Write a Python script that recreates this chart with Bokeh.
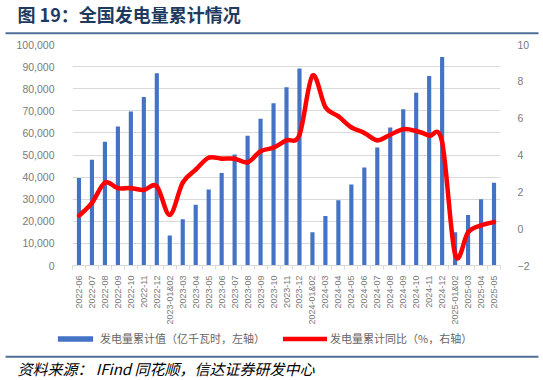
import math
from bokeh.plotting import figure
from bokeh.layouts import column
from bokeh.models import (Range1d, LinearAxis, FixedTicker, NumeralTickFormatter,
                          Label, BoxAnnotation, Legend, LegendItem)
from bokeh.embed import file_html
from bokeh.resources import INLINE

# ---------------- data ----------------
categories = ["2022-06", "2022-07", "2022-08", "2022-09", "2022-10", "2022-11", "2022-12",
              "2023-01&02", "2023-03", "2023-04", "2023-05", "2023-06", "2023-07", "2023-08",
              "2023-09", "2023-10", "2023-11", "2023-12",
              "2024-01&02", "2024-03", "2024-04", "2024-05", "2024-06", "2024-07", "2024-08",
              "2024-09", "2024-10", "2024-11", "2024-12",
              "2025-01&02", "2025-03", "2025-04", "2025-05"]
gen_cum = [39600, 47800, 56000, 62900, 69700, 76200, 87000,
           13600, 20900, 27500, 34400, 41900, 50200, 58700, 66400, 73400, 80700, 89100,
           15100, 22400, 29500, 36600, 44400, 53400, 62500, 70700, 78200, 85800, 94300,
           15000, 22900, 30000, 37400]
yoy_cum = [0.7, 1.4, 2.5, 2.2, 2.2, 2.1, 2.3,
           0.75, 2.5, 3.2, 3.85, 3.8, 3.8, 3.6, 4.2, 4.4, 4.8, 5.1,
           8.3, 6.6, 6.1, 5.5, 5.2, 4.8, 5.1, 5.4, 5.3, 5.05, 4.7,
           -1.4, -0.2, 0.18, 0.36]
left_ticks = list(range(0, 100001, 10000))
right_ticks = [-2, 0, 2, 4, 6, 8, 10]

title_text = "图 19：全国发电量累计情况"
source_text = "资料来源： IFind 同花顺，信达证券研发中心"
bar_label = "发电量累计值（亿千瓦时，左轴）"
line_label = "发电量累计同比（%，右轴）"

CJK = "Noto Sans CJK SC"
LAT = "Liberation Sans"
TICK_COLOR = "#7a7a7a"
GRID_COLOR = "#d9d9d9"
RULE_COLOR = "#4F6F99"
BAR_COLOR = "#4472C4"
LINE_COLOR = "#FF0000"
W = 543


def blank(height):
    f = figure(width=W, height=height, x_range=Range1d(0, W), y_range=Range1d(height, 0),
               output_backend="svg", toolbar_location=None, min_border=0,
               x_axis_type=None, y_axis_type=None, frame_align=False)
    f.outline_line_color = None
    f.xgrid.visible = False
    f.ygrid.visible = False
    return f


# ---------------- header ----------------
HEAD_H = 40
head = blank(HEAD_H)
head.add_layout(Label(x=17, y=13, text=title_text, text_font=CJK, text_font_style="bold",
                      text_font_size="18px", text_color="#1F3A60", text_baseline="middle"))
head.add_layout(BoxAnnotation(left=5, right=538, top=31.7, bottom=33.7,
                              fill_color=RULE_COLOR, fill_alpha=1, line_color=None))

# ---------------- main chart ----------------
n = len(categories)
xs = list(range(n))

MAIN_H = 287
p = figure(width=W, height=MAIN_H, x_range=Range1d(-0.5, n - 0.5), y_range=Range1d(0, 100000),
           output_backend="svg", toolbar_location=None, frame_align=False,
           min_border_left=72, min_border_right=43, min_border_top=44 - HEAD_H,
           min_border_bottom=MAIN_H - 223 - (44 - HEAD_H))
p.outline_line_color = None
p.extra_y_ranges = {"right": Range1d(-2, 10)}

lax = p.yaxis[0]
lax.ticker = FixedTicker(ticks=left_ticks)
lax.formatter = NumeralTickFormatter(format="0,0")
lax.axis_line_color = None
lax.major_tick_line_color = None
lax.minor_tick_line_color = None
lax.major_label_text_font = LAT
lax.major_label_text_font_size = "10.5px"
lax.major_label_text_color = TICK_COLOR
lax.major_label_standoff = 12

rax = LinearAxis(y_range_name="right", ticker=FixedTicker(ticks=right_ticks))
rax.axis_line_color = None
rax.major_tick_line_color = None
rax.minor_tick_line_color = None
rax.major_label_text_font = LAT
rax.major_label_text_font_size = "10.5px"
rax.major_label_text_color = TICK_COLOR
rax.major_label_standoff = 11
p.add_layout(rax, "right")

bax = p.xaxis[0]
bax.ticker = FixedTicker(ticks=xs, minor_ticks=[i - 0.5 for i in range(n + 1)])
bax.major_label_overrides = {i: c for i, c in enumerate(categories)}
bax.major_label_orientation = math.pi / 2
bax.major_label_text_font = LAT
bax.major_label_text_font_size = "9px"
bax.major_label_text_color = TICK_COLOR
bax.axis_line_color = GRID_COLOR
bax.axis_line_width = 1.2
bax.major_tick_line_color = None
bax.major_tick_in = 0
bax.major_tick_out = 0
bax.minor_tick_line_color = GRID_COLOR
bax.minor_tick_in = 0
bax.minor_tick_out = 4
bax.major_label_standoff = 6

p.xgrid.visible = False
p.ygrid.ticker = FixedTicker(ticks=left_ticks)
p.ygrid.grid_line_color = GRID_COLOR
p.ygrid.grid_line_width = 1.2

p.vbar(x=xs, top=gen_cum, width=0.32, fill_color=BAR_COLOR, line_color=None)


# smooth line (Catmull-Rom as Bezier segments)
def pt(i):
    i = max(0, min(n - 1, i))
    return xs[i], yoy_cum[i]


x0, y0, x1, y1, cx0, cy0, cx1, cy1 = [], [], [], [], [], [], [], []
for i in range(n - 1):
    pa, pb, pc, pd = pt(i - 1), pt(i), pt(i + 1), pt(i + 2)
    x0.append(pb[0]); y0.append(pb[1]); x1.append(pc[0]); y1.append(pc[1])
    cx0.append(pb[0] + (pc[0] - pa[0]) / 6); cy0.append(pb[1] + (pc[1] - pa[1]) / 6)
    cx1.append(pc[0] - (pd[0] - pb[0]) / 6); cy1.append(pc[1] - (pd[1] - pb[1]) / 6)
p.bezier(x0=x0, y0=y0, x1=x1, y1=y1, cx0=cx0, cy0=cy0, cx1=cx1, cy1=cy1,
         line_color=LINE_COLOR, line_width=4.5, line_cap="round", y_range_name="right")

# ---------------- footer (legend + source) ----------------
FOOT_H = 380 - HEAD_H - MAIN_H
foot = blank(FOOT_H)
# hidden legend proxies: they only supply the legend swatch styles
bar_proxy = foot.vbar(x=xs, top=gen_cum, width=0.32, fill_color=BAR_COLOR, line_color=None,
                      visible=False)
line_proxy = foot.line(x=xs, y=yoy_cum, line_color=LINE_COLOR, line_width=4.5,
                       line_cap="round", visible=False)
legend = Legend(items=[LegendItem(label=bar_label, renderers=[bar_proxy]),
                       LegendItem(label=line_label, renderers=[line_proxy])],
                location=(53, FOOT_H - 19), orientation="horizontal", padding=0, margin=0,
                spacing=18, label_standoff=3, glyph_width=44, glyph_height=7, label_height=12,
                label_text_font=CJK, label_text_font_size="11px", label_text_color="#666666",
                background_fill_alpha=0, border_line_alpha=0, inactive_fill_alpha=0)
foot.add_layout(legend)
foot.add_layout(BoxAnnotation(left=5, right=538, top=355.3 - HEAD_H - MAIN_H,
                              bottom=357.3 - HEAD_H - MAIN_H,
                              fill_color=RULE_COLOR, fill_alpha=1, line_color=None))
foot.add_layout(Label(x=17, y=368 - HEAD_H - MAIN_H, text=source_text, text_font=CJK,
                      text_font_style="italic", text_font_size="15px",
                      text_color="#000000", text_baseline="middle"))

layout = column(head, p, foot, spacing=0)
open("out.html", "w").write(file_html(layout, INLINE))
